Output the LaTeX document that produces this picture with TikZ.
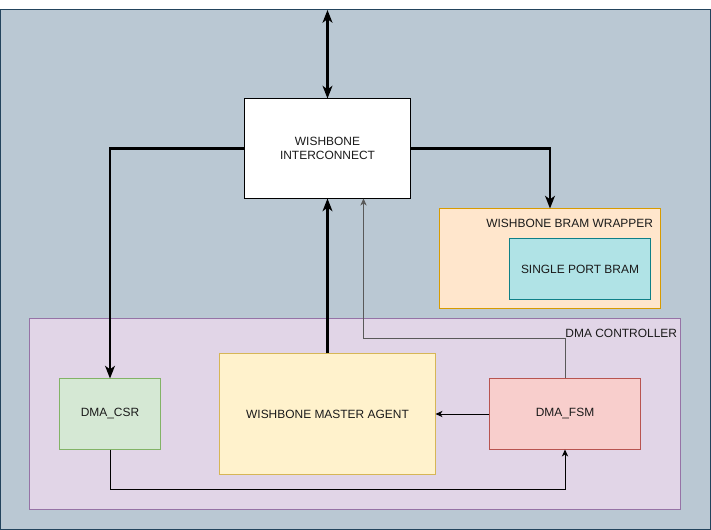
\documentclass[tikz,border=0pt]{standalone}
\usepackage{fontspec}
\setmainfont{Liberation Sans}
\usetikzlibrary{arrows.meta}

\definecolor{bgfill}{HTML}{BAC8D3}
\definecolor{bgline}{HTML}{23445D}
\definecolor{dmafill}{HTML}{E1D5E7}
\definecolor{dmaline}{HTML}{9673A6}
\definecolor{csrfill}{HTML}{D5E8D4}
\definecolor{csrline}{HTML}{82B366}
\definecolor{agentfill}{HTML}{FFF2CC}
\definecolor{agentline}{HTML}{D6B656}
\definecolor{fsmfill}{HTML}{F8CECC}
\definecolor{fsmline}{HTML}{B85450}
\definecolor{wrapfill}{HTML}{FFE6CC}
\definecolor{wrapline}{HTML}{D79B00}
\definecolor{bramfill}{HTML}{B0E3E6}
\definecolor{bramline}{HTML}{0E8088}
\definecolor{txt}{HTML}{1A1A1A}

\tikzset{
  blk/.style={draw, line width=0.7pt, inner sep=0pt, align=center, text=txt,
    font=\fontsize{8.5}{10.5}\selectfont},
  bus/.style={line width=2.1pt, -{Stealth[length=9pt,width=7pt,inset=2.5pt]}},
  sig/.style={line width=0.7pt, -{Stealth[length=5pt,width=4.5pt,inset=1.5pt]}},
}

\begin{document}
\begin{tikzpicture}[x=0.025cm,y=-0.025cm]

\useasboundingbox (0,0) rectangle (711,530);
\draw [fill=bgfill, draw=bgline, line width=0.7pt] (0,9) rectangle (710,529);

% dma controller
\node [blk, fill=dmafill, draw=dmaline, minimum width=16.25cm, minimum height=4.75cm] (dma) at (355,414) {};
\node [anchor=east, text=txt, font=\fontsize{8.5}{10.5}\selectfont] (dmalbl) at (682,333) {DMA CONTROLLER};

% bram wrapper
\node [blk, fill=wrapfill, draw=wrapline, minimum width=5.5cm, minimum height=2.475cm] (wrap) at (550,258.5) {};
\node [anchor=east, text=txt, font=\fontsize{8.5}{10.5}\selectfont] (wraplbl) at (658,223) {WISHBONE BRAM WRAPPER};
\node [blk, fill=bramfill, draw=bramline, minimum width=3.5cm, minimum height=1.5cm] (bram) at (580,269) {SINGLE PORT BRAM};

\node [blk, fill=white, draw=black, minimum width=4.125cm, minimum height=2.475cm] (ic) at (327.5,148.5) {WISHBONE\\INTERCONNECT};
\node [blk, fill=agentfill, draw=agentline, minimum width=5.375cm, minimum height=3cm] (agent) at (327.5,414) {WISHBONE MASTER AGENT};
\node [blk, fill=csrfill, draw=csrline, minimum width=2.5cm, minimum height=1.75cm] (csr) at (110,414) {DMA\_CSR};
\node [blk, fill=fsmfill, draw=fsmline, minimum width=3.75cm, minimum height=1.75cm] (fsm) at (565,414) {DMA\_FSM};

\coordinate (top) at (327.5,10);

% buses
\draw [bus, {Stealth[length=9pt,width=7pt,inset=2.5pt]}-{Stealth[length=9pt,width=7pt,inset=2.5pt]}] (top) -- (ic.north);
\draw [bus] (ic.west) -| (csr.north);
\draw [bus] (ic.east) -| (wrap.north);
\draw [bus] (agent.north) -- (ic.south);

% control signals
\draw [sig, draw=black!65] (fsm.north) -- ++(0,-40) -| ([xshift=0.9cm]ic.south);
\draw [sig] (fsm.west) -- (agent.east);
\draw [sig] (csr.south) -- ++(0,40) -| (fsm.south);

\end{tikzpicture}
\end{document}
